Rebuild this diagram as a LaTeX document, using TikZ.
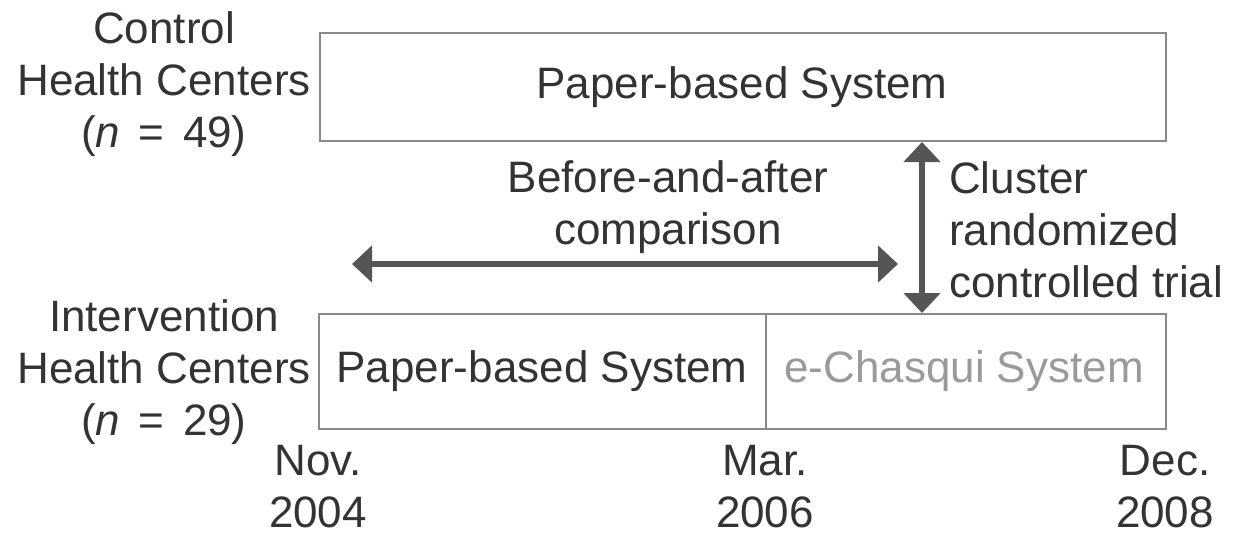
\documentclass[tikz,border=0pt]{standalone}
\usepackage{fontspec}
\setmainfont{Liberation Sans}
\usetikzlibrary{arrows.meta}
\definecolor{txt}{HTML}{333333}
\definecolor{light}{HTML}{9A9A9A}
\definecolor{arr}{HTML}{555555}
\definecolor{bord}{HTML}{8A8A8A}
\newcommand{\myeq}{\hspace{0.42em}{=}\hspace{0.42em}}
\begin{document}
\begin{tikzpicture}[x=1pt,y=-1pt,
  lbl/.style={font=\fontsize{44}{52}\selectfont, text=txt, inner sep=0pt, align=center},
  boxx/.style={draw=bord, line width=1.6pt},
  bigarrow/.style={draw=arr, line width=6pt, {Triangle[length=20pt,width=36pt]}-{Triangle[length=20pt,width=36pt]}}
]
\useasboundingbox (0,0) rectangle (1245,536);
% boxes
\node[boxx, minimum width=846pt, minimum height=108pt, anchor=north west, inner sep=0pt] (top) at (319,32) {};
\node[boxx, minimum width=447pt, minimum height=115pt, anchor=north west, inner sep=0pt] (bl) at (318,313) {};
\node[boxx, minimum width=400pt, minimum height=115pt, anchor=north west, inner sep=0pt] (br) at (765,313) {};
\node[lbl] (t1) at (742,87) {Paper-based System};
\node[lbl] (t2) at (542,371) {Paper-based System};
\node[lbl, text=light] (t3) at (964,371) {e-Chasqui System};
% left labels
\node[lbl] (ctrl) at (164,84) {Control\\Health Centers\\(\textit{n}\myeq 49)};
\node[lbl] (intv) at (164,372) {Intervention\\Health Centers\\(\textit{n}\myeq 29)};
% arrows
\coordinate (ha) at (352,264);
\coordinate (hb) at (898,264);
\draw[bigarrow] (ha) -- (hb);
\coordinate (va) at (922,142);
\coordinate (vb) at (922,313);
\draw[bigarrow] (va) -- (vb);
\node[lbl] (baa) at (668,207) {Before-and-after\\comparison};
\node[lbl, align=left, anchor=west] (crt) at (949,230) {Cluster\\randomized\\controlled trial};
% dates
\node[lbl] (d1) at (318,487) {Nov.\\2004};
\node[lbl] (d2) at (765,487) {Mar.\\2006};
\node[lbl] (d3) at (1165,487) {Dec.\\2008};
\end{tikzpicture}
\end{document}
